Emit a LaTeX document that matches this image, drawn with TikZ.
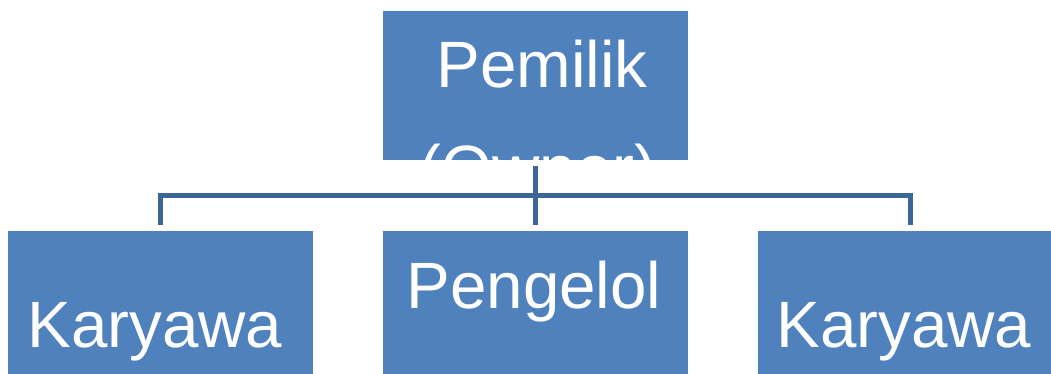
\documentclass[tikz,border=0pt]{standalone}
\usepackage{fontspec}
\setmainfont{Liberation Sans}
\usepackage{tikz}
\usetikzlibrary{positioning, calc}
\definecolor{boxblue}{RGB}{79,129,189}
\definecolor{lineblue}{RGB}{60,102,150}
\tikzset{
    orgbox/.style={rectangle, draw=none, fill=boxblue, minimum width=305pt, inner sep=0pt},
    orgtext/.style={anchor=base, text=white, inner sep=0pt, font=\fontsize{65.5}{76}\selectfont},
    link/.style={draw=lineblue, line width=5pt},
}

\begin{document}
\begin{tikzpicture}[x=1pt, y=-1pt]
        \useasboundingbox (0,0) rectangle (1051,374);

        % Nodes
        \node[orgbox, minimum height=149pt] (owner) at (535,85.5) {};
        \node[orgbox, minimum height=160pt] (staffleft) at (160,311) {};
        \node[orgbox, minimum height=160pt] (manager) at (535,311) {};
        \node[orgbox, minimum height=160pt] (staffright) at (910,311) {};

        % Labels
        \begin{scope}
            \clip (owner.south west) rectangle (owner.north east);
            \node[orgtext] (ownername) at (542,88) {Pemilik};
            \node[orgtext] (ownernote) at (538,192) {(Owner)};
        \end{scope}
        \node[orgtext] (staffleftname) at (155,347) {Karyawa};
        \node[orgtext] (managername) at (534,308) {Pengelol};
        \node[orgtext] (staffrightname) at (904,347) {Karyawa};

        % Connections
        \coordinate (hub) at (535,195.5);
        \draw[link, shorten <=6pt] (owner) -- (hub);
        \draw[link, shorten >=6pt] (hub) -| (staffleft.north);
        \draw[link, shorten >=6pt] (hub) -- (manager.north);
        \draw[link, shorten >=6pt] (hub) -| (staffright.north);
\end{tikzpicture}
\end{document}
